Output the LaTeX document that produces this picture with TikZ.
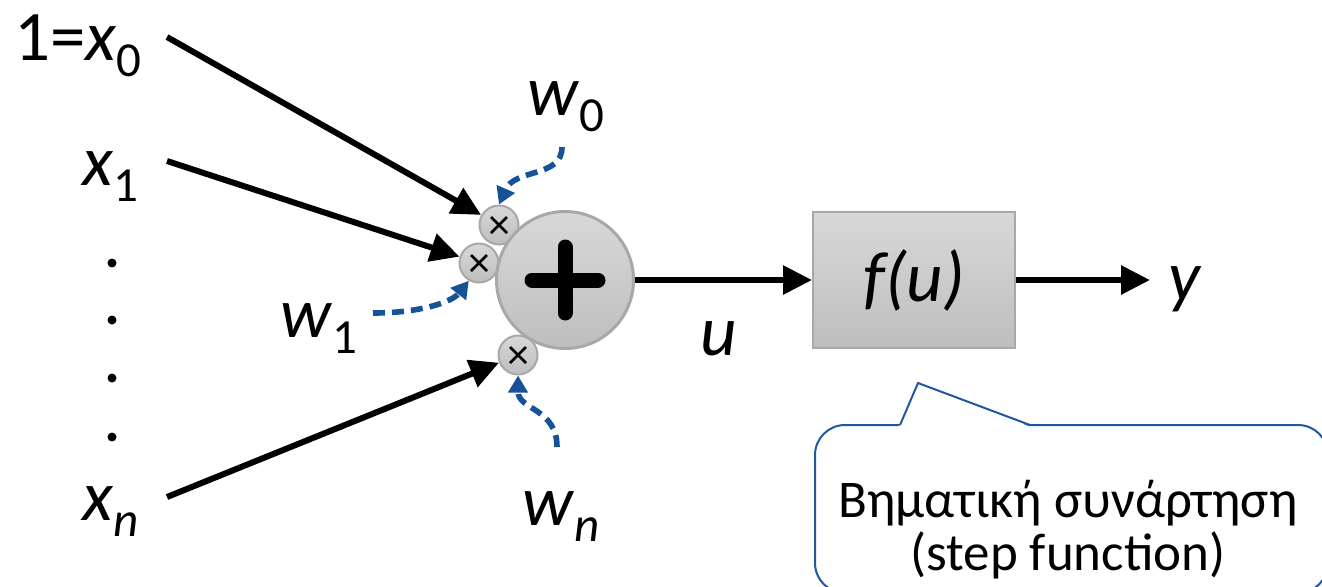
\documentclass[tikz,border=0pt]{standalone}
\usepackage{fontspec}
\setmainfont{Carlito}
\usetikzlibrary{arrows.meta}
\definecolor{wblue}{RGB}{22,82,152}
\definecolor{cblue}{RGB}{32,88,158}
\definecolor{gborder}{RGB}{168,168,168}
\definecolor{gtop}{RGB}{216,216,216}
\definecolor{gbot}{RGB}{190,190,190}
\newcommand{\vsub}[2]{\textit{#1}\raisebox{-8pt}{\fontsize{24.5}{25}\selectfont #2}}
\begin{document}
\begin{tikzpicture}[x=0.5pt,y=-0.5pt,
  lbl/.style={inner sep=0pt, font=\fontsize{35.5}{40}\selectfont, anchor=base west},
  arr/.style={line width=3pt, -{Triangle[length=14.5pt,width=14pt]}},
  warr/.style={wblue, line width=2.8pt, dash pattern=on 6pt off 3.5pt, -{Triangle[length=8.5pt,width=9.5pt]}},
  dotn/.style={circle, fill=black, inner sep=0pt, minimum size=4.5pt},
  mult/.style={circle, draw=gborder, line width=1pt, top color=gtop, bottom color=gbot,
    minimum size=19.5pt, inner sep=0pt,
    path picture={
      \draw[black, line width=1.3pt]
        ([shift={(-8,-8)}]path picture bounding box.center) -- ([shift={(8,8)}]path picture bounding box.center)
        ([shift={(-8,8)}]path picture bounding box.center) -- ([shift={(8,-8)}]path picture bounding box.center);}},
  sumn/.style={circle, draw=gborder, line width=1.5pt, top color=gtop, bottom color=gbot,
    minimum size=68.5pt, inner sep=0pt,
    path picture={
      \draw[black, line width=7.5pt, line cap=round]
        ([shift={(-33,0)}]path picture bounding box.center) -- ([shift={(33,0)}]path picture bounding box.center)
        ([shift={(0,-33)}]path picture bounding box.center) -- ([shift={(0,33)}]path picture bounding box.center);}},
  fboxn/.style={rectangle, draw=gborder, line width=1pt, top color=gtop, bottom color=gbot,
    minimum width=101pt, minimum height=68pt, inner sep=0pt, font=\fontsize{35.5}{40}\selectfont},
  callt/.style={inner sep=0pt, font=\fontsize{26.5}{30}\selectfont, anchor=base},
  callb/.style={cblue, line width=1pt}
]
\useasboundingbox (0,0) rectangle (1322,586);

% input labels
\node[lbl] (x0) at (14,60) {1=\vsub{x}{0}};
\node[lbl] (x1) at (82,185) {\vsub{x}{1}};
\node[lbl] (xn) at (82,520) {\vsub{x}{\textit{n}}};
\node[dotn] (d1) at (112,263) {};
\node[dotn] (d2) at (112,320) {};
\node[dotn] (d3) at (112,378) {};
\node[dotn] (d4) at (112,437) {};

% multipliers and sum
\node[mult] (c0) at (499,225) {};
\node[mult] (c1) at (479,263) {};
\node[mult] (cn) at (518,355) {};
\node[sumn] (sum) at (565,280) {};

% function box
\node[fboxn] (fbox) at (914,280) {\textit{f(u)}};
\node[lbl] (ylab) at (1168,300) {\textit{y}};
\node[lbl] (ulab) at (700,355) {\textit{u}};

% weights
\node[lbl] (w0) at (527,115) {\vsub{w}{0}};
\node[lbl] (w1) at (280,337) {\vsub{w}{1}};
\node[lbl] (wn) at (522,525) {\vsub{w}{\textit{n}}};

% input arrows
\coordinate (s0) at (167,37);
\coordinate (s1) at (167,161);
\coordinate (sn) at (167,497);
\draw[arr] (s0) -- (c0);
\draw[arr] (s1) -- (c1);
\draw[arr] (sn) -- (cn);
\draw[arr] (sum) -- (fbox);
\draw[arr] (fbox.east) -- ([xshift=-9]fbox.east -| ylab.west);

% weight arrows
\coordinate (v0) at (562,147);
\coordinate (v1) at (373,313);
\coordinate (vn) at (557,447);
\draw[warr] (v0) .. controls (562,178) and (515,168) .. (c0.north);
\draw[warr] (v1) .. controls (420,313) and (452,302) .. (c1.-120);
\draw[warr] (vn) .. controls (557,408) and (518,410) .. (cn.south);

% callout
\draw[callb, rounded corners=15pt] (815,425) rectangle (1328,593);
\fill[white] (899,427) -- (918,383) -- (1031,427) -- cycle;
\draw[callb, line join=miter] (900,425) -- (918,383) -- (1030,425);
\node[callt] (ct1) at (1068,517) {Βηματική συνάρτηση};
\node[callt] (ct2) at (1068,570) {(step function)};
\end{tikzpicture}
\end{document}
